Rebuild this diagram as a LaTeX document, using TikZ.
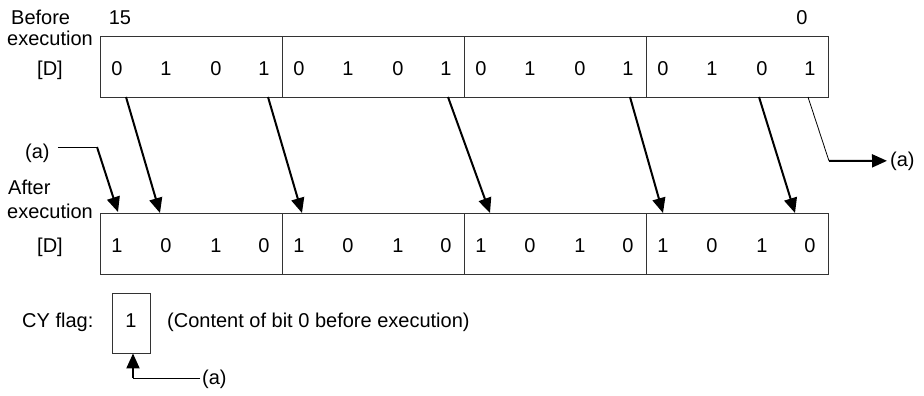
\documentclass[tikz,border=0pt]{standalone}
\usepackage{fontspec}
\setmainfont{Liberation Sans}
\usetikzlibrary{arrows.meta}
\begin{document}
\begin{tikzpicture}[x=1pt,y=-1pt,
  reg/.style={draw=black!80,line width=0.9pt,minimum width=182pt,minimum height=61pt,inner sep=0pt,anchor=north west},
  txt/.style={font=\fontsize{20}{23}\selectfont,inner sep=0pt,anchor=base},
  txtw/.style={txt,anchor=base west},
  bigarrow/.style={line width=2pt,-{Triangle[length=15pt,width=13pt]}},
  thinline/.style={line width=0.8pt}]
\useasboundingbox[fill=white] (0,0) rectangle (924,396);
% labels
\node[txtw] (bef) at (11,25) {Before};
\node[txtw] (exe1) at (7,46) {execution};
\node[txt] (d1) at (50,75) {[D]};
\node[txt] (b15) at (120,25) {15};
\node[txt] (b0) at (802,25) {0};
\node[txtw] (aft) at (8,194) {After};
\node[txtw] (exe2) at (7,218) {execution};
\node[txt] (d2) at (50,252) {[D]};
% registers
\foreach \g in {0,1,2,3}{
  \node[reg] (top\g) at ({100+182*\g},36) {};
  \node[reg] (bot\g) at ({100+182*\g},213) {};
  \node[txt] (t\g a) at ({100+182*\g+17},75) {0};
  \node[txt] (t\g b) at ({100+182*\g+66},75) {1};
  \node[txt] (t\g c) at ({100+182*\g+116},75) {0};
  \node[txt] (t\g d) at ({100+182*\g+164},75) {1};
  \node[txt] (u\g a) at ({100+182*\g+17},252) {1};
  \node[txt] (u\g b) at ({100+182*\g+66},252) {0};
  \node[txt] (u\g c) at ({100+182*\g+116},252) {1};
  \node[txt] (u\g d) at ({100+182*\g+164},252) {0};
}
% shift arrows
\foreach \s/\e [count=\i] in {126/160,268/302,448/490,630/663,759/795}{
  \coordinate (as\i) at (\s,97);
  \coordinate (ae\i) at (\e,213);
  \draw[bigarrow] (as\i) -- (ae\i);
}
% bit 0 out
\coordinate (r0) at (808,97);
\coordinate (r1) at (829,161);
\node[txtw] (ra) at (890,166) {(a)};
\draw[thinline] (r0) -- (r1);
\draw[bigarrow] (r1) -- ([xshift=-3pt]ra.west);
% left (a) in
\node[txtw] (la) at (25,158) {(a)};
\coordinate (l1) at (97,147);
\coordinate (l2) at (118,212);
\draw[thinline] (la.east |- l1) ++(8,0) -- (l1);
\draw[bigarrow] (l1) -- (l2);
% CY flag
\node[txtw] (cy) at (22,327) {CY flag:};
\node[draw=black!80,line width=0.9pt,minimum width=38pt,minimum height=60pt,inner sep=0pt] (cyb) at (131,323) {};
\node[txt] (cy1) at (131,327) {1};
\node[txtw] (cyt) at (167,327) {(Content of bit 0 before execution)};
\node[txtw] (ba) at (202,384) {(a)};
\coordinate (c1) at (133,378);
\draw[thinline] (ba.west |- c1) ++(-2,0) -- (c1);
\draw[bigarrow] (c1) -- (c1 |- cyb.south);
\end{tikzpicture}
\end{document}
